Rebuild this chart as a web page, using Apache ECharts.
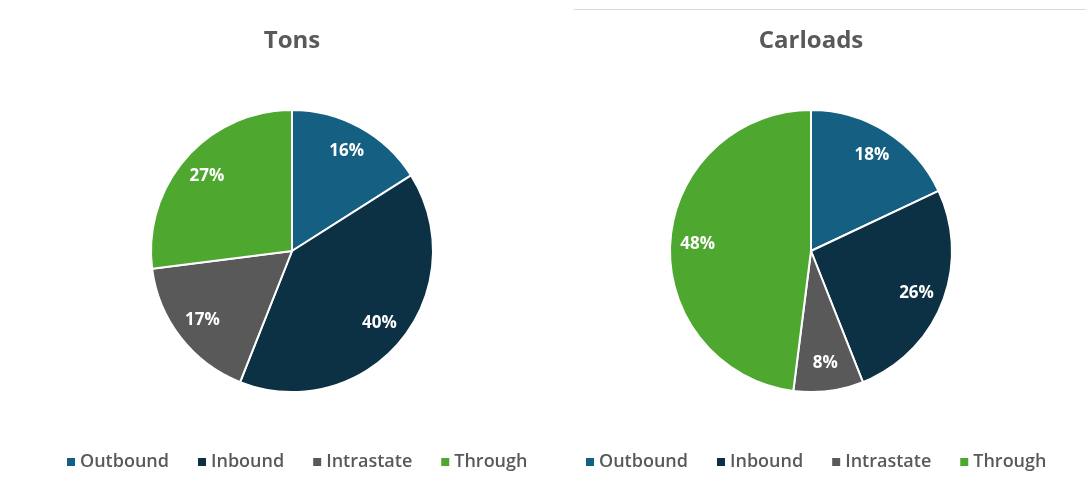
<!DOCTYPE html>
<html><head><meta charset="utf-8">
<script src="https://cdn.jsdelivr.net/npm/echarts@6/dist/echarts.min.js"></script>
<style>html,body{margin:0;padding:0;background:#fff}#c{width:1086px;height:487px}</style>
</head><body><div id="c"></div>
<script>
const categories = ['Outbound', 'Inbound', 'Intrastate', 'Through'];
const tonsValues = [16, 40, 17, 27];
const carloadValues = [18, 26, 8, 48];
const chartTitles = ['Tons', 'Carloads'];
const colors = ['#156082', '#0C3044', '#595959', '#4EA72E'];

const FONT = 'Open Sans';
function toData(vals){ return categories.map((n,i)=>({name:n, value:vals[i]})); }
function pieSeries(vals, center){
  return [{
    type:'pie', center:center, radius:141, startAngle:90, clockwise:true,
    data:toData(vals), label:{show:false}, labelLine:{show:false},
    itemStyle:{borderColor:'#fff', borderWidth:2}, emphasis:{disabled:true}, animation:false
  },{
    type:'pie', center:center, radius:[80,141], startAngle:90, clockwise:true,
    data:toData(vals), silent:true, animation:false,
    itemStyle:{color:'rgba(0,0,0,0)'}, emphasis:{disabled:true},
    label:{show:true, position:'inside', formatter:'{c}%', color:'#fff', fontFamily:FONT, fontWeight:'bold', fontSize:17},
    labelLine:{show:false}, legendHoverLink:false
  }];
}
const legendCommon = {
  data:categories, top:448, icon:'rect', itemWidth:8, itemHeight:8, itemGap:29, itemStyle:{borderWidth:0},
  textStyle:{color:'#595959', fontFamily:FONT, fontWeight:600, fontSize:18}, selectedMode:false
};
const titleStyle = {color:'#595959', fontFamily:FONT, fontWeight:'bold', fontSize:24};
const chart = echarts.init(document.getElementById('c'), null, {renderer:'canvas'});
chart.setOption({
  color:colors,
  animation:false,
  title:[
    {text:chartTitles[0], left:292, top:29, padding:0, textAlign:'center', textStyle:titleStyle},
    {text:chartTitles[1], left:811, top:29, padding:0, textAlign:'center', textStyle:titleStyle}
  ],
  legend:[
    Object.assign({left:62}, legendCommon),
    Object.assign({left:581}, legendCommon)
  ],
  graphic:[{type:'line', shape:{x1:574, y1:9.5, x2:1086, y2:9.5}, style:{stroke:'#d9d9d9', lineWidth:1}, silent:true}],
  series:[...pieSeries(tonsValues,[292,251]), ...pieSeries(carloadValues,[811,251])]
});
</script></body></html>
